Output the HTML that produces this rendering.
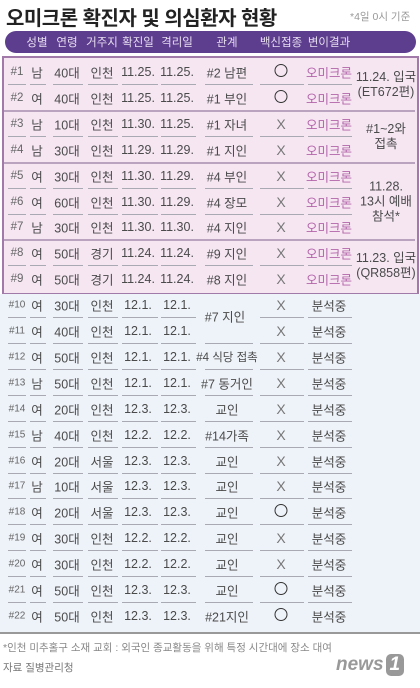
<!DOCTYPE html>
<html><head><meta charset="utf-8"><style>
body{margin:0;width:420px;height:688px;overflow:hidden;background:#fff;font-family:"Liberation Sans","Noto Sans CJK KR",sans-serif;}
#root{position:relative;width:420px;height:688px;}
.a{position:absolute;white-space:nowrap;}
.c{position:absolute;transform:translate(-50%,-50%);white-space:nowrap;font-size:12.5px;color:#4a4a4a;}
.u{position:absolute;height:1px;background:#a9a9b3;}
</style></head><body>
<div id="root">
<div class="a" style="left:6px;top:2px;font-size:20px;font-weight:bold;color:#222;letter-spacing:-0.5px">오미크론 확진자 및 의심환자 현황</div>
<div class="a" style="left:350px;top:9px;font-size:10.5px;color:#999">*4일 0시 기준</div>
<div class="a" style="left:5px;top:31px;width:411px;height:22px;border-radius:11px;background:#5d3e8e"></div>
<div class="a" style="left:2px;top:56px;width:413px;height:235px;background:#f5e6f2;border:2px solid #a27aaa"></div>
<div class="a" style="left:0;top:294px;width:420px;height:338px;background:#eef3f9"></div>
<div class="a" style="left:0;top:632px;width:420px;height:2px;background:#999"></div>
<div class="a" style="left:3px;top:640px;font-size:10.5px;color:#888">*인천 미추홀구 소재 교회 : 외국인 종교활동을 위해 특정 시간대에 장소 대여</div>
<div class="a" style="left:3px;top:660px;font-size:10.5px;color:#777">자료 질병관리청</div>
<div class="a" style="left:336px;top:654px;font-size:19px;font-weight:bold;font-style:italic;color:#999">news<span style="display:inline-block;background:#999;color:#fff;border-radius:5px;padding:0 4px;margin-left:2px">1</span></div>
</div>
<script>
const headers=['성별','연령','거주지','확진일','격리일','관계','백신접종','변이결과'];
const rows=[
['#1','남','40대','인천','11.25.','11.25.','#2 남편','O','오미크론'],
['#2','여','40대','인천','11.25.','11.25.','#1 부인','O','오미크론'],
['#3','남','10대','인천','11.30.','11.25.','#1 자녀','X','오미크론'],
['#4','남','30대','인천','11.29.','11.29.','#1 지인','X','오미크론'],
['#5','여','30대','인천','11.30.','11.29.','#4 부인','X','오미크론'],
['#6','여','60대','인천','11.30.','11.29.','#4 장모','X','오미크론'],
['#7','남','30대','인천','11.30.','11.30.','#4 지인','X','오미크론'],
['#8','여','50대','경기','11.24.','11.24.','#9 지인','X','오미크론'],
['#9','여','50대','경기','11.24.','11.24.','#8 지인','X','오미크론'],
['#10','여','30대','인천','12.1.','12.1.','','X','분석중'],
['#11','여','40대','인천','12.1.','12.1.','','X','분석중'],
['#12','여','50대','인천','12.1.','12.1.','#4 식당 접촉','X','분석중'],
['#13','남','50대','인천','12.1.','12.1.','#7 동거인','X','분석중'],
['#14','여','20대','인천','12.3.','12.3.','교인','X','분석중'],
['#15','남','40대','인천','12.2.','12.2.','#14가족','X','분석중'],
['#16','여','20대','서울','12.3.','12.3.','교인','X','분석중'],
['#17','남','10대','서울','12.3.','12.3.','교인','X','분석중'],
['#18','여','20대','서울','12.3.','12.3.','교인','O','분석중'],
['#19','여','30대','인천','12.2.','12.2.','교인','X','분석중'],
['#20','여','30대','인천','12.2.','12.2.','교인','X','분석중'],
['#21','여','50대','인천','12.3.','12.3.','교인','O','분석중'],
['#22','여','50대','인천','12.3.','12.3.','#21지인','O','분석중']];
const notes=[[0,1,'11.24. 입국<br>(ET672편)'],[2,3,'#1~2와<br>접촉'],[4,6,'11.28.<br>13시 예배<br>참석*'],[7,8,'11.23. 입국<br>(QR858편)'],[9,10,'#7 지인',225]];
const groupEnds=[1,3,6,8];
const root=document.getElementById('root');
const cx=[17,37,67,102,138,177,227,281,329];
const seg=[[8,26],[30,46],[53,83],[88,118],[122,158],[161,196],[205,253],[260,304],[308,352]];
const y0=72,pitch=25.9;
function rowY(i){return y0+i*pitch;}
function el(cls,name,html,x,y){const d=document.createElement('div');d.className=cls;


d.innerHTML=html;d.style.left=x+'px';d.style.top=y+'px';root.appendChild(d);return d;}
headers.forEach((h,j)=>{const d=el('c','header-'+(j+1),h,cx[j+1],42);d.style.color='#e6dcf0';d.style.fontSize='11.5px';});
rows.forEach((r,i)=>{const y=rowY(i);
r.forEach((v,j)=>{if(v==='')return;
let html=v;
if(j===7&&v==='O')html='<span style="display:inline-block;width:11px;height:11px;border:1.6px solid #333;border-radius:50%"></span>';
const d=el('c','row'+(i+1)+'-col'+j,html,cx[j],y);
if(j===0){d.style.fontSize=i>=9?'10px':'11.5px';d.style.color='#666';}
if(j===6&&v.length>6){d.style.fontSize='11.5px';}
if(j===7&&v==='X'){d.style.color='#777';d.style.fontSize='14px';}
if(j===8&&i<9){d.style.color='#b366aa';}
});
const last=groupEnds.includes(i)||i===rows.length-1;
if(!last){seg.forEach((s,j)=>{if(j===6&&i===9)return;
const u=document.createElement('div');u.className='u';


u.style.left=s[0]+'px';u.style.width=(s[1]-s[0])+'px';u.style.top=(y+12)+'px';root.appendChild(u);});}
});
groupEnds.slice(0,3).forEach(g=>{const u=document.createElement('div');u.className='u';


u.style.left='4px';u.style.width='411px';u.style.height='2px';u.style.background='#b9a3bf';u.style.top=(rowY(g)+12)+'px';root.appendChild(u);});
notes.forEach(n=>{const y=(rowY(n[0])+rowY(n[1]))/2;const d=el('c','merged-note',n[2],n[3]||386,y);d.style.textAlign='center';d.style.lineHeight='15px';});
</script>
</body></html>
